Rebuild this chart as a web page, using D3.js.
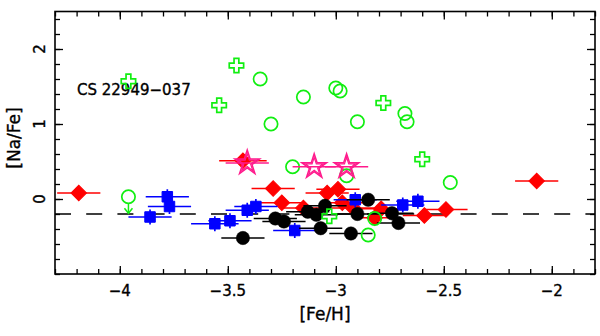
<!DOCTYPE html>
<html>
<head>
<meta charset="utf-8">
<script src="https://cdn.jsdelivr.net/npm/d3@7"></script>
<style>
  body { margin: 0; background: #fff; }
  svg { display: block; }
  text { fill: #000; stroke: #000; stroke-width: 0.35px; }
</style>
</head>
<body>
<div id="js_chart"></div>
<script>
// [Fe/H] and [Na/Fe]
const redFe = [-4.19, -3.43, -3.29, -3.25, -3.15, -3.04, -2.99, -2.97, -2.92, -2.82, -2.79, -2.59, -2.49, -2.07];
const redNa = [0.08, 0.51, 0.14, -0.05, -0.12, 0.08, 0.13, -0.05, -0.12, -0.25, -0.13, -0.22, -0.14, 0.24];
const redErr = [0.1, 0.11, 0.1, 0.1, 0.1, 0.1, 0.1, 0.1, 0.1, 0.1, 0.1, 0.1, 0.1, 0.1];

const blueFe = [-3.86, -3.78, -3.77, -3.56, -3.49, -3.41, -3.37, -3.19, -2.91, -2.69, -2.62];
const blueNa = [-0.24, 0.03, -0.10, -0.33, -0.29, -0.15, -0.10, -0.42, -0.01, -0.08, -0.03];
const blueErr = [0.1, 0.1, 0.1, 0.11, 0.1, 0.1, 0.1, 0.1, 0.1, 0.1, 0.1];

const blackFe = [-3.43, -3.28, -3.24, -3.13, -3.09, -3.07, -3.05, -2.93, -2.90, -2.85, -2.74, -2.71];
const blackNa = [-0.52, -0.26, -0.30, -0.17, -0.21, -0.39, -0.09, -0.46, -0.20, -0.01, -0.19, -0.32];
const blackErr = [0.1, 0.1, 0.1, 0.1, 0.1, 0.1, 0.1, 0.1, 0.1, 0.1, 0.1, 0.1];

const circFe = [-3.96, -3.35, -3.30, -3.20, -3.15, -3.00, -2.98, -2.95, -2.90, -2.85, -2.82, -2.68, -2.67, -2.47];
const circNa = [0.03, 1.60, 1.00, 0.43, 1.36, 1.48, 1.44, 0.31, 1.03, -0.48, -0.26, 1.14, 1.03, 0.22];
const circLimit = [true, false, false, false, false, false, false, false, false, false, false, false, false, false];

const crossFe = [-3.96, -3.46, -3.54, -3.03, -2.78, -2.60];
const crossNa = [1.57, 1.78, 1.25, -0.23, 1.28, 0.53];

const starFe = [-3.41, -3.10, -2.95];
const starNa = [0.48, 0.43, 0.43];
const starErr = [0.1, 0.1, 0.1];

const xMajor = [-4, -3.5, -3, -2.5, -2];
const yMajor = [0, 1, 2];
const solarLine = -0.2;
const label = "CS 22949\u2212037";

const width = 600, height = 336;
const x = d3.scaleLinear().domain([-4.3, -1.8]).range([55, 595]);
const y = d3.scaleLinear().domain([-1, 2.5]).range([274, 11.5]);

const svg = d3.select("#js_chart").append("svg")
    .attr("width", width)
    .attr("height", height)
    .style("background", "#fff");

const font = "DejaVu Sans, sans-serif";

// minor tick values
const xMinor = d3.range(-43, -17).map(function (i) { return i / 10; });
const yMinor = d3.range(-5, 13).map(function (i) { return i / 5; });

function axis(gen, tx, ty, vals, size) {
    svg.append("g")
        .attr("transform", "translate(" + tx + "," + ty + ")")
        .call(gen.tickValues(vals).tickSizeInner(size).tickSizeOuter(0).tickFormat(""))
        .call(function (g) {
            g.select(".domain").remove();
            g.selectAll("line").attr("stroke", "#000").attr("stroke-width", 1.3);
        });
}
axis(d3.axisBottom(x), 0, 274, xMinor, -5);
axis(d3.axisBottom(x), 0, 274, xMajor, -8);
axis(d3.axisTop(x), 0, 11.5, xMinor, -5);
axis(d3.axisTop(x), 0, 11.5, xMajor, -8);
axis(d3.axisLeft(y), 55, 0, yMinor, -5);
axis(d3.axisLeft(y), 55, 0, yMajor, -8);
axis(d3.axisRight(y), 595, 0, yMinor, -5);
axis(d3.axisRight(y), 595, 0, yMajor, -8);

// tick labels
const fmt = d3.format("");
svg.append("g").selectAll("text").data(xMajor).enter().append("text")
    .attr("x", function (d) { return x(d); })
    .attr("y", 296)
    .attr("text-anchor", "middle")
    .style("font-family", font).style("font-size", "15px")
    .text(function (d) { return fmt(d); });

svg.append("g").selectAll("text").data(yMajor).enter().append("text")
    .attr("transform", function (d) { return "translate(45," + y(d) + ") rotate(-90)"; })
    .attr("text-anchor", "middle")
    .style("font-family", font).style("font-size", "15px")
    .text(function (d) { return fmt(d); });

// axis titles
svg.append("text")
    .attr("x", 325).attr("y", 320)
    .attr("text-anchor", "middle")
    .style("font-family", font).style("font-size", "17px")
    .text("[Fe/H]");
svg.append("text")
    .attr("transform", "translate(20,138) rotate(-90)")
    .attr("text-anchor", "middle")
    .style("font-family", font).style("font-size", "17px")
    .text("[Na/Fe]");

svg.append("text")
    .attr("x", 77).attr("y", 95)
    .style("font-family", font).style("font-size", "15px")
    .text(label);

// dashed reference line
svg.append("line")
    .attr("x1", x(-4.3)).attr("x2", x(-1.8))
    .attr("y1", y(solarLine)).attr("y2", y(solarLine))
    .attr("stroke", "#000").attr("stroke-width", 1.3)
    .attr("stroke-dasharray", "16,15.2");

function zip(fe, na, err) {
    return fe.map(function (v, i) { return {x: v, y: na[i], e: err ? err[i] : 0, i: i}; });
}

function errBars(data, color, yErr) {
    const g = svg.append("g").attr("stroke", color).attr("stroke-width", 1.7);
    g.selectAll("line.h").data(data).enter().append("line")
        .attr("x1", function (d) { return x(d.x - d.e); })
        .attr("x2", function (d) { return x(d.x + d.e); })
        .attr("y1", function (d) { return y(d.y); })
        .attr("y2", function (d) { return y(d.y); });
    if (yErr) {
        g.selectAll("line.v").data(data).enter().append("line")
            .attr("x1", function (d) { return x(d.x); })
            .attr("x2", function (d) { return x(d.x); })
            .attr("y1", function (d) { return y(d.y - yErr); })
            .attr("y2", function (d) { return y(d.y + yErr); });
    }
}

function markers(data, type, size, fill, stroke, sw, rot) {
    svg.append("g").selectAll("path").data(data).enter().append("path")
        .attr("d", d3.symbol().type(type).size(size))
        .attr("transform", function (d) {
            return "translate(" + x(d.x) + "," + y(d.y) + ")" + (rot ? " rotate(" + rot + ")" : "");
        })
        .attr("fill", fill)
        .attr("stroke", stroke)
        .attr("stroke-width", sw);
}

const red = zip(redFe, redNa, redErr);
const blue = zip(blueFe, blueNa, blueErr);
const black = zip(blackFe, blackNa, blackErr);
const circ = zip(circFe, circNa);
const cross = zip(crossFe, crossNa);
const stars = zip(starFe, starNa, starErr);

const green = "#11ee11";

errBars(red, "#ff0000");
markers(red, d3.symbolSquare, 120, "#ff0000", "#ff0000", 1, 45);

errBars(blue, "#0000ff", 0.1);
markers(blue, d3.symbolSquare, 110, "#0000ff", "#0000ff", 1);

errBars(black, "#000");
markers(black, d3.symbolCircle, 140, "#000", "#000", 0.5);

markers(circ, d3.symbolCircle, 140, "none", green, 1.7);
// upper limit arrow
const lim = circ.filter(function (d) { return circLimit[d.i]; });
const ga = svg.append("g").attr("stroke", green).attr("stroke-width", 1.5).attr("fill", "none");
lim.forEach(function (d) {
    const cx = x(d.x), cy = y(d.y);
    const tip = y(d.y - 0.22);
    ga.append("line").attr("x1", cx).attr("x2", cx).attr("y1", cy + 6.7).attr("y2", tip);
    ga.append("path").attr("d", "M" + (cx - 4) + "," + (tip - 5) + "L" + cx + "," + tip + "L" + (cx + 4) + "," + (tip - 5));
});

markers(cross, d3.symbolCross, 115, "none", green, 1.7);

errBars(stars, "#ff1a8c");
markers(stars, d3.symbolStar, 190, "none", "#ff1a8c", 1.5);
markers(stars, d3.symbolStar, 100, "none", "#ff1a8c", 1.2);

// frame
svg.append("rect")
    .attr("x", 55).attr("y", 11.5)
    .attr("width", 540).attr("height", 262.5)
    .attr("fill", "none").attr("stroke", "#000").attr("stroke-width", 1.6);
</script>
</body>
</html>
